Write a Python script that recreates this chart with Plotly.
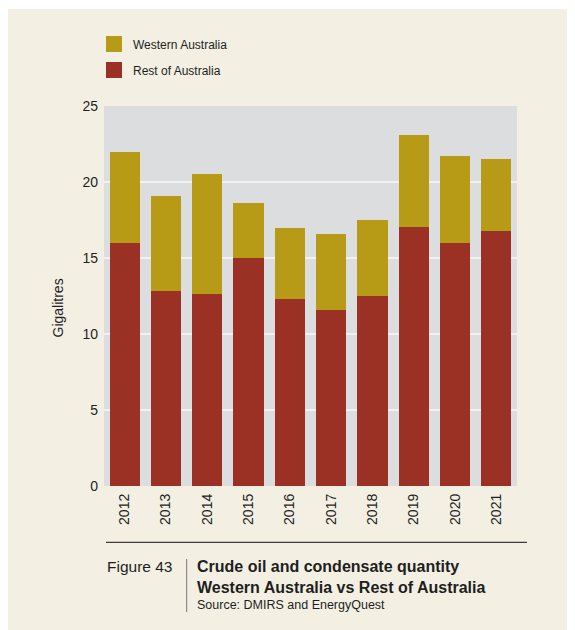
import plotly.graph_objects as go

years = ["2012", "2013", "2014", "2015", "2016", "2017", "2018", "2019", "2020", "2021"]
rest_of_australia = [16.0, 12.85, 12.6, 15.0, 12.3, 11.6, 12.5, 17.05, 16.0, 16.8]
western_australia = [6.0, 6.2, 7.9, 3.6, 4.7, 4.95, 5.0, 6.05, 5.7, 4.7]
y_ticks = [0, 5, 10, 15, 20, 25]

GOLD = "#B79B17"
RED = "#9B3024"
PAGE = "#F3F0E3"
PLOT = "#DCDDDF"
TXT = "#1E1E1E"
FONT = "Liberation Sans, Arial, sans-serif"

OFF = 8  # page body margin
W, H = 575 - OFF, 630 - OFF
L, T = 104 - OFF, 106 - OFF
PW, PH = 413, 380
R, B = W - L - PW, H - T - PH


def px(x):
    """page x pixel -> paper coordinate"""
    return (x - OFF - L) / PW


def py(y):
    """page y pixel -> paper coordinate"""
    return (OFF + T + PH - y) / PH


fig = go.Figure()
fig.add_trace(go.Bar(x=years, y=rest_of_australia, name="Rest of Australia",
                     marker=dict(color=RED, line=dict(width=0)), showlegend=False))
fig.add_trace(go.Bar(x=years, y=western_australia, name="Western Australia",
                     marker=dict(color=GOLD, line=dict(width=0)), showlegend=False))

shapes = [
    dict(type="rect", xref="paper", yref="paper", x0=px(0), x1=px(600), y0=py(9), y1=py(0),
         fillcolor="white", line=dict(width=0), layer="below"),
    dict(type="rect", xref="paper", yref="paper", x0=px(106), x1=px(122), y0=py(52), y1=py(36),
         fillcolor=GOLD, line=dict(width=0)),
    dict(type="rect", xref="paper", yref="paper", x0=px(106), x1=px(122), y0=py(78), y1=py(62),
         fillcolor=RED, line=dict(width=0)),
    dict(type="line", xref="paper", yref="paper", x0=px(106), x1=px(527), y0=py(542.3), y1=py(542.3),
         line=dict(color="#111111", width=1)),
    dict(type="line", xref="paper", yref="paper", x0=px(186.7), x1=px(186.7), y0=py(559), y1=py(612),
         line=dict(color="#777777", width=1)),
]

annotations = [
    dict(text="Western Australia", x=px(131), y=py(44.5), xref="paper", yref="paper",
         xanchor="left", yanchor="middle", showarrow=False, font=dict(size=12, color=TXT, family=FONT)),
    dict(text="Rest of Australia", x=px(131), y=py(70.5), xref="paper", yref="paper",
         xanchor="left", yanchor="middle", showarrow=False, font=dict(size=12, color=TXT, family=FONT)),
    dict(text="Gigalitres", x=px(57.5), y=py(308), xref="paper", yref="paper", textangle=-90,
         xanchor="center", yanchor="middle", showarrow=False, font=dict(size=14, color=TXT, family=FONT)),
    dict(text="Figure 43", x=px(105), y=py(566), xref="paper", yref="paper",
         xanchor="left", yanchor="middle", showarrow=False, font=dict(size=15.5, color=TXT, family=FONT)),
    dict(text="<b>Crude oil and condensate quantity</b>", x=px(195), y=py(566.5), xref="paper", yref="paper",
         xanchor="left", yanchor="middle", showarrow=False, font=dict(size=16, color=TXT, family=FONT)),
    dict(text="<b>Western Australia vs Rest of Australia</b>", x=px(195), y=py(587.5), xref="paper", yref="paper",
         xanchor="left", yanchor="middle", showarrow=False, font=dict(size=16, color=TXT, family=FONT)),
    dict(text="Source: DMIRS and EnergyQuest", x=px(195), y=py(604.5), xref="paper", yref="paper",
         xanchor="left", yanchor="middle", showarrow=False, font=dict(size=12.5, color=TXT, family=FONT)),
]

fig.update_layout(
    width=W, height=H,
    margin=dict(l=L, r=R, t=T, b=B, pad=0),
    paper_bgcolor=PAGE, plot_bgcolor=PLOT,
    barmode="stack", bargap=0.27,
    showlegend=False,
    font=dict(family=FONT, size=14, color=TXT),
    shapes=shapes, annotations=annotations,
    xaxis=dict(type="category", tickangle=-90, showgrid=False, zeroline=False, showline=False,
               ticks="", tickfont=dict(size=14, color=TXT), ticklabelstandoff=4),
    yaxis=dict(range=[0, 25], tickvals=y_ticks, showgrid=True, gridcolor="#F2F2F4", gridwidth=1.5,
               zeroline=False, showline=False, ticks="", tickfont=dict(size=14, color=TXT),
               ticklabelstandoff=5),
)

fig.write_html("out.html")
